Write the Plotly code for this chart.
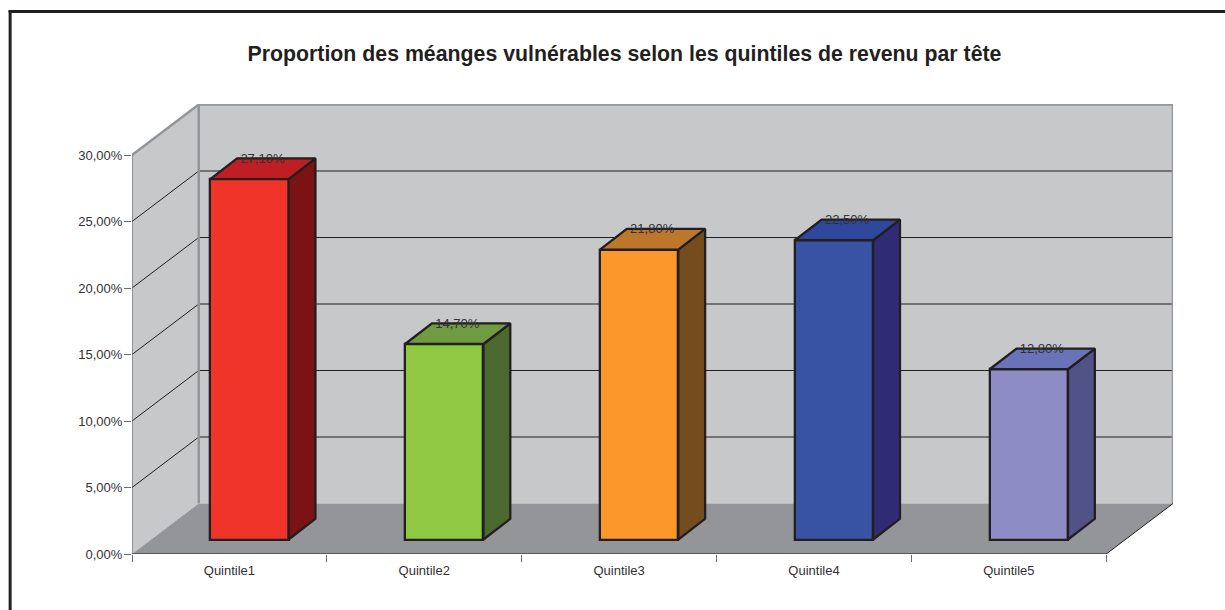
import plotly.graph_objects as go

# ---- data
categories = ["Quintile1", "Quintile2", "Quintile3", "Quintile4", "Quintile5"]
values = [27.10, 14.70, 21.80, 22.50, 12.80]
value_labels = ["27,10%", "14,70%", "21,80%", "22,50%", "12,80%"]
y_ticks = [0, 5, 10, 15, 20, 25, 30]
y_tick_labels = ["0,00%", "5,00%", "10,00%", "15,00%", "20,00%", "25,00%", "30,00%"]
front_colors = ["#f0342a", "#8fc941", "#fb972b", "#3953a4", "#8e8cc5"]
top_colors = ["#be1e24", "#6f9c40", "#bd772b", "#2f479c", "#6a72b8"]
side_colors = ["#7b1214", "#4c6a2f", "#744c1e", "#2f2c75", "#505288"]

title = "Proportion des méanges vulnérables selon les quintiles de revenu par tête"

# ---- geometry (pixels -> data units)
W, H = 1225, 610
X0_PX, X1_PX, XEND_PX = 132.3, 1106.0, 1172.7
Y0_PX, YTOP_PX, Y30_PX = 554.0, 104.0, 155.0
PX_X = (X1_PX - X0_PX) / len(categories)
PX_Y = (Y0_PX - Y30_PX) / 30
WALL_DX = (XEND_PX - X1_PX) / PX_X
WALL_DY = 50.5 / PX_Y
BAR_W = 78.3 / PX_X
BAR_SHIFT = 20.0 / PX_X
BAR_BASE = 14.5 / PX_Y
BAR_DX = 26.8 / PX_X
BAR_DY = 20.7 / PX_Y
X_MAX = (XEND_PX - X0_PX) / PX_X
Y_MAX = (Y0_PX - YTOP_PX) / PX_Y
N = len(categories)

INK = "#231f20"
TEXT = "#333132"
WALL = "#c7c8ca"
FLOOR = "#939598"
EDGE = "#939598"
AXIS_GREY = "#6d6e71"
FONT = "Liberation Sans, Arial, sans-serif"


def poly(xs, ys, color, layer="below"):
    path = "M " + " L ".join(f"{x},{y}" for x, y in zip(xs, ys)) + " Z"
    return dict(type="path", path=path, xref="x", yref="y", fillcolor=color,
                line=dict(width=0), layer=layer)


def seg(x0, y0, x1, y1, color, width):
    return dict(type="line", x0=x0, y0=y0, x1=x1, y1=y1, xref="x", yref="y",
                line=dict(color=color, width=width), layer="below")


shapes = [
    poly([WALL_DX, X_MAX, X_MAX, WALL_DX], [WALL_DY, WALL_DY, 30 + WALL_DY, 30 + WALL_DY], WALL),
    poly([0, WALL_DX, WALL_DX, 0], [0, WALL_DY, 30 + WALL_DY, 30], WALL),
    poly([0, N, X_MAX, WALL_DX], [0, 0, WALL_DY, WALL_DY], FLOOR),
]
for t in y_ticks[1:-1]:
    shapes.append(seg(0, t, WALL_DX, t + WALL_DY, INK, 1))
    shapes.append(seg(WALL_DX, t + WALL_DY, X_MAX, t + WALL_DY, INK, 1))
shapes += [
    seg(0, 30, WALL_DX, 30 + WALL_DY, EDGE, 2.5),
    seg(WALL_DX, 30 + WALL_DY, X_MAX, 30 + WALL_DY, EDGE, 2.5),
    seg(WALL_DX, WALL_DY, WALL_DX, 30 + WALL_DY, EDGE, 2.5),
    seg(X_MAX, WALL_DY, X_MAX, 30 + WALL_DY, EDGE, 2.5),
    seg(0, 0, 0, 30, AXIS_GREY, 1.2),
    seg(0, 0, N, 0, INK, 1.2),
    seg(N, 0, X_MAX, WALL_DY, INK, 1),
    # outer frame of the picture (left and top only)
    dict(type="line", xref="paper", yref="paper",
         x0=(10.5 - X0_PX) / (XEND_PX - X0_PX), x1=(10.5 - X0_PX) / (XEND_PX - X0_PX),
         y0=(Y0_PX - H) / (Y0_PX - YTOP_PX), y1=(Y0_PX - 10) / (Y0_PX - YTOP_PX),
         line=dict(color=INK, width=3)),
    dict(type="line", xref="paper", yref="paper",
         x0=(9 - X0_PX) / (XEND_PX - X0_PX), x1=(W - X0_PX) / (XEND_PX - X0_PX),
         y0=(Y0_PX - 11.5) / (Y0_PX - YTOP_PX), y1=(Y0_PX - 11.5) / (Y0_PX - YTOP_PX),
         line=dict(color=INK, width=3)),
]

fig = go.Figure()
centers = [i + 0.5 + BAR_SHIFT for i in range(N)]

fig.add_trace(go.Bar(
    x=centers, y=values, base=[BAR_BASE] * N, width=[BAR_W] * N,
    marker=dict(color=front_colors, line=dict(color=INK, width=2.3)),
    showlegend=False, hoverinfo="skip",
))

for c, v, top_col, side_col in zip(centers, values, top_colors, side_colors):
    xl, xr = c - BAR_W / 2, c + BAR_W / 2
    yb, yt = BAR_BASE, BAR_BASE + v
    fig.add_trace(go.Scatter(
        x=[xr, xr + BAR_DX, xr + BAR_DX, xr, xr],
        y=[yb, yb + BAR_DY, yt + BAR_DY, yt, yb],
        mode="lines", fill="toself", fillcolor=side_col,
        line=dict(color=INK, width=2.3), showlegend=False, hoverinfo="skip",
    ))
    fig.add_trace(go.Scatter(
        x=[xl, xr, xr + BAR_DX, xl + BAR_DX, xl],
        y=[yt, yt, yt + BAR_DY, yt + BAR_DY, yt],
        mode="lines", fill="toself", fillcolor=top_col,
        line=dict(color=INK, width=2.3), showlegend=False, hoverinfo="skip",
    ))

fig.add_trace(go.Scatter(
    x=[c + 13 / PX_X for c in centers],
    y=[BAR_BASE + v + BAR_DY - 1.0 / PX_Y for v in values],
    mode="text", text=value_labels, textposition="middle center",
    textfont=dict(family=FONT, size=13, color=TEXT),
    showlegend=False, hoverinfo="skip", cliponaxis=False,
))

fig.update_layout(
    width=W, height=H, autosize=False,
    margin=dict(l=X0_PX, r=W - XEND_PX, t=YTOP_PX, b=H - Y0_PX, pad=0),
    paper_bgcolor="white", plot_bgcolor="white",
    font=dict(family=FONT, size=13, color=TEXT),
    title=dict(text=f"<b>{title}</b>", x=624.5 / W, xref="container",
               xanchor="center", y=1 - 53.5 / H, yanchor="middle",
               font=dict(family=FONT, size=21.3, color=INK)),
    shapes=shapes,
    bargap=0,
    xaxis=dict(
        range=[0, X_MAX], showgrid=False, zeroline=False, showline=False,
        tickmode="array", tickvals=[i + 0.5 for i in range(N)], ticktext=categories,
        ticks="outside", ticklen=2, tickcolor="rgba(0,0,0,0)", ticklabelstandoff=2,
        tickfont=dict(family=FONT, size=13, color=TEXT),
        minor=dict(tickmode="array", tickvals=list(range(N + 1)), ticks="outside",
                   ticklen=7, tickcolor=AXIS_GREY, tickwidth=1.2, showgrid=False),
    ),
    yaxis=dict(
        range=[0, Y_MAX], showgrid=False, zeroline=False, showline=False,
        tickmode="array", tickvals=y_ticks, ticktext=y_tick_labels,
        ticks="outside", ticklen=7, tickcolor=AXIS_GREY, tickwidth=1.2, ticklabelstandoff=-1,
        tickfont=dict(family=FONT, size=13, color=TEXT),
    ),
)

fig.write_html("out.html", post_script="document.body.style.margin='0';",
               config=dict(displayModeBar=False))
